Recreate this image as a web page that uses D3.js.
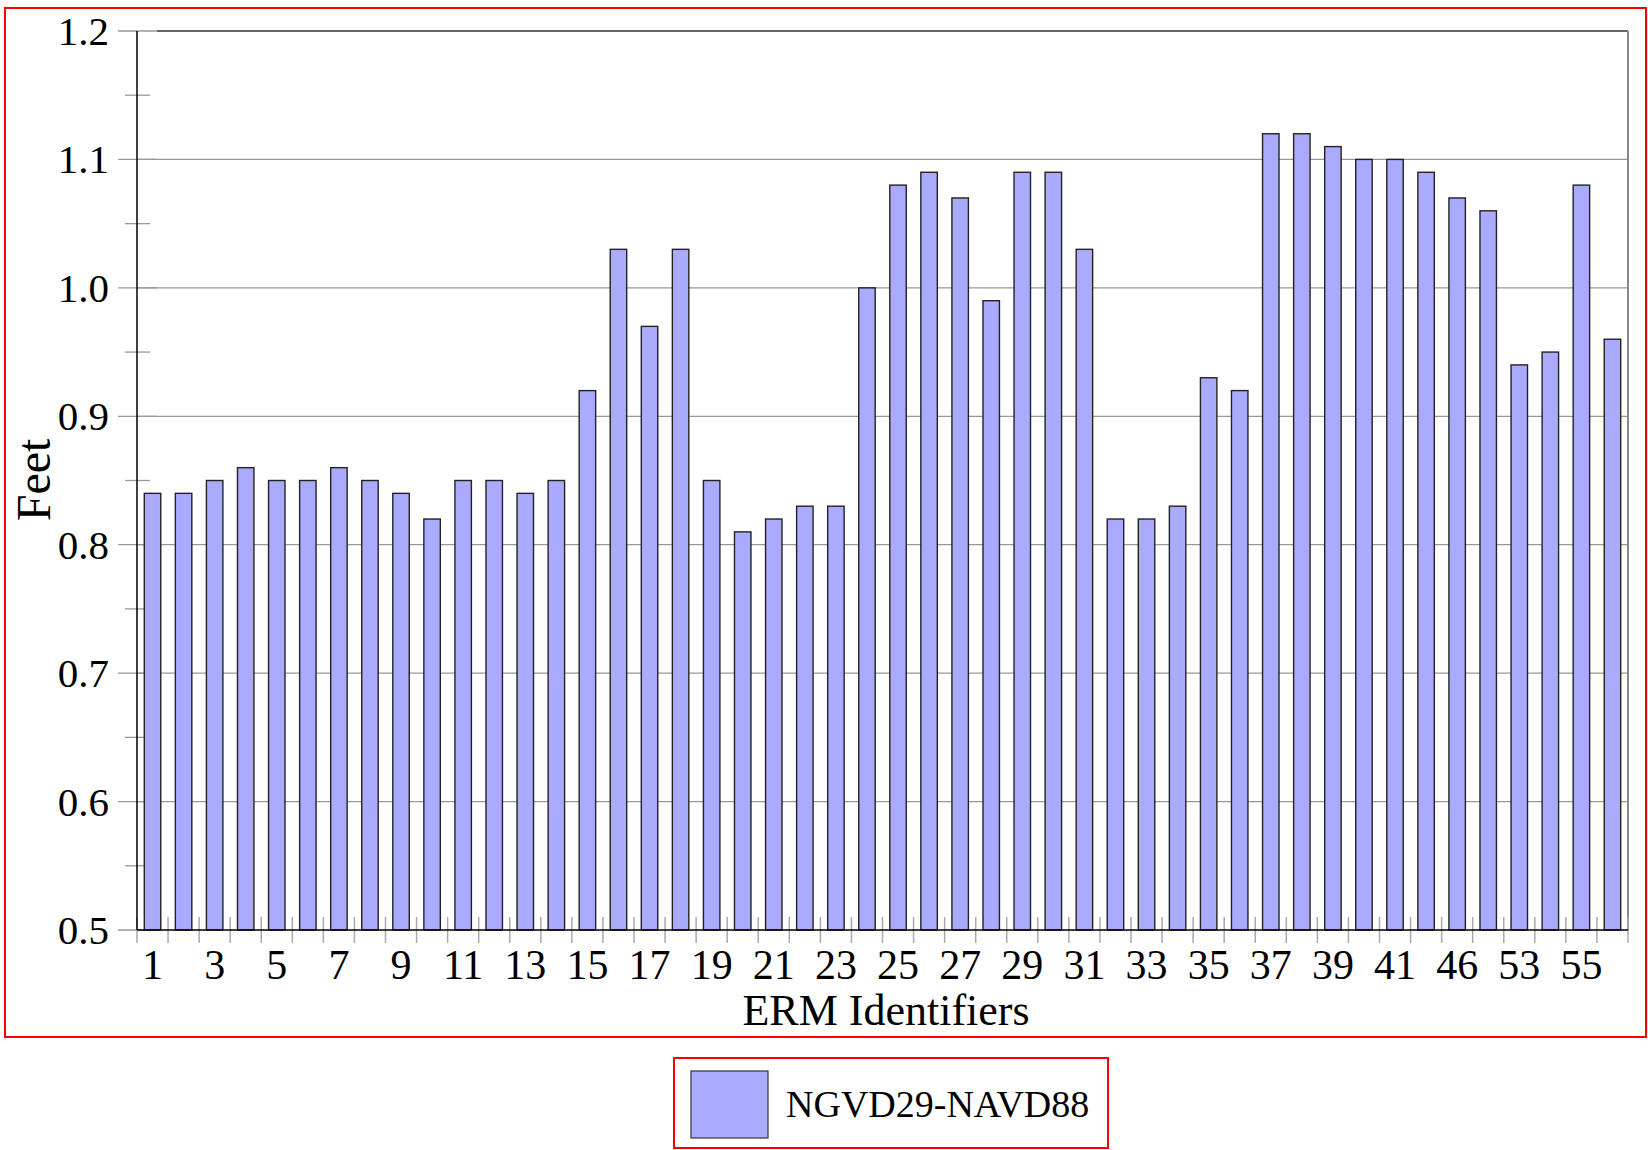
<!DOCTYPE html>
<html>
<head>
<meta charset="utf-8">
<script src="https://cdn.jsdelivr.net/npm/d3@7"></script>
<style>
  html, body { margin: 0; padding: 0; background: #fff; }
  svg { display: block; }
  text { font-family: "Liberation Serif", "Times New Roman", serif; fill: #000; }
</style>
</head>
<body>
<svg id="chart" width="1648" height="1150"></svg>
<script>
// ---- data ----
const ids = ["1","2","3","4","5","6","7","8","9","10","11","12","13","14","15","16","17","18","19","20",
             "21","22","23","24","25","26","27","28","29","30","31","32","33","34","35","36","37","38","39","40",
             "41","45","46","52","53","54","55","56"];
const values = [0.84,0.84,0.85,0.86,0.85,0.85,0.86,0.85,0.84,0.82,
                0.85,0.85,0.84,0.85,0.92,1.03,0.97,1.03,0.85,0.81,
                0.82,0.83,0.83,1.00,1.08,1.09,1.07,0.99,1.09,1.09,
                1.03,0.82,0.82,0.83,0.93,0.92,1.12,1.12,1.11,1.10,
                1.10,1.09,1.07,1.06,0.94,0.95,1.08,0.96];
const yTicks = [0.5,0.6,0.7,0.8,0.9,1.0,1.1,1.2];
const yMinor = [0.55,0.65,0.75,0.85,0.95,1.05,1.15];
const seriesName = "NGVD29-NAVD88";
const xTitle = "ERM Identifiers";
const yTitle = "Feet";

// ---- layout ----
const L = 137, R = 1628, T = 31, B = 930;
const svg = d3.select("#chart");

// outer frame
svg.append("rect").attr("x", 5).attr("y", 8).attr("width", 1641).attr("height", 1029)
  .attr("fill", "none").attr("stroke", "#ff0000").attr("stroke-width", 2);

const x = d3.scaleBand().domain(ids).range([L, R]).paddingInner(0.47).paddingOuter(0.235);
const xSlot = d3.scaleBand().domain(ids).range([L, R]).padding(0);
const y = d3.scaleLinear().domain([0.5, 1.2]).range([B, T]);

// gridlines
svg.append("g").selectAll("line").data(yTicks.filter(t => t > 0.5 && t < 1.2)).join("line")
  .attr("x1", L).attr("x2", R).attr("y1", d => y(d)).attr("y2", d => y(d))
  .attr("stroke", "#999").attr("stroke-width", 1.3);

// y major / minor ticks
svg.append("g").selectAll("line").data(yTicks).join("line")
  .attr("x1", L - 19).attr("x2", L + 20).attr("y1", d => y(d)).attr("y2", d => y(d))
  .attr("stroke", "#999").attr("stroke-width", 1.3);
svg.append("g").selectAll("line").data(yMinor).join("line")
  .attr("x1", L - 12).attr("x2", L + 13).attr("y1", d => y(d)).attr("y2", d => y(d))
  .attr("stroke", "#999").attr("stroke-width", 1.3);

// frame top and right
svg.append("line").attr("x1", L + 20).attr("x2", R).attr("y1", T).attr("y2", T)
  .attr("stroke", "#333").attr("stroke-width", 1.5);
svg.append("line").attr("x1", R).attr("x2", R).attr("y1", T).attr("y2", B)
  .attr("stroke", "#888").attr("stroke-width", 2);

// bars
svg.append("g").selectAll("rect").data(ids).join("rect")
  .attr("x", d => x(d)).attr("width", x.bandwidth())
  .attr("y", (d, i) => y(values[i])).attr("height", (d, i) => B - y(values[i]))
  .attr("fill", "#aaaaff").attr("stroke", "#222").attr("stroke-width", 1.4);

// x ticks at slot boundaries
const bounds = ids.map(d => xSlot(d)).concat([R]);
svg.append("g").selectAll("line").data(bounds).join("line")
  .attr("x1", d => d).attr("x2", d => d).attr("y1", B - 13).attr("y2", B + 13)
  .attr("stroke", "#aaa").attr("stroke-width", 1.5);

// axes lines
svg.append("line").attr("x1", L).attr("x2", L).attr("y1", T).attr("y2", B)
  .attr("stroke", "#000").attr("stroke-width", 1.5);
svg.append("line").attr("x1", L).attr("x2", R).attr("y1", B).attr("y2", B)
  .attr("stroke", "#000").attr("stroke-width", 1.5);

// y labels
svg.append("g").selectAll("text").data(yTicks).join("text")
  .attr("x", 109).attr("y", d => y(d) + 14)
  .attr("text-anchor", "end").attr("font-size", 41)
  .text(d => d.toFixed(1));

// x labels (every other category)
svg.append("g").selectAll("text").data(ids.filter((d, i) => i % 2 === 0)).join("text")
  .attr("x", d => x(d) + x.bandwidth() / 2).attr("y", 979)
  .attr("text-anchor", "middle").attr("font-size", 42)
  .text(d => d);

// titles
svg.append("text").attr("x", 886).attr("y", 1025)
  .attr("text-anchor", "middle").attr("font-size", 44).text(xTitle);
svg.append("text").attr("transform", "translate(50,480) rotate(-90)")
  .attr("text-anchor", "middle").attr("font-size", 48).text(yTitle);

// legend
const lg = svg.append("g");
lg.append("rect").attr("x", 674).attr("y", 1058).attr("width", 434).attr("height", 90)
  .attr("fill", "#fff").attr("stroke", "#ff0000").attr("stroke-width", 2);
lg.append("rect").attr("x", 691).attr("y", 1071).attr("width", 77).attr("height", 67)
  .attr("fill", "#aaaaff").attr("stroke", "#333").attr("stroke-width", 1.2);
lg.append("text").attr("x", 786).attr("y", 1117).attr("font-size", 38).text(seriesName);
</script>
</body>
</html>
